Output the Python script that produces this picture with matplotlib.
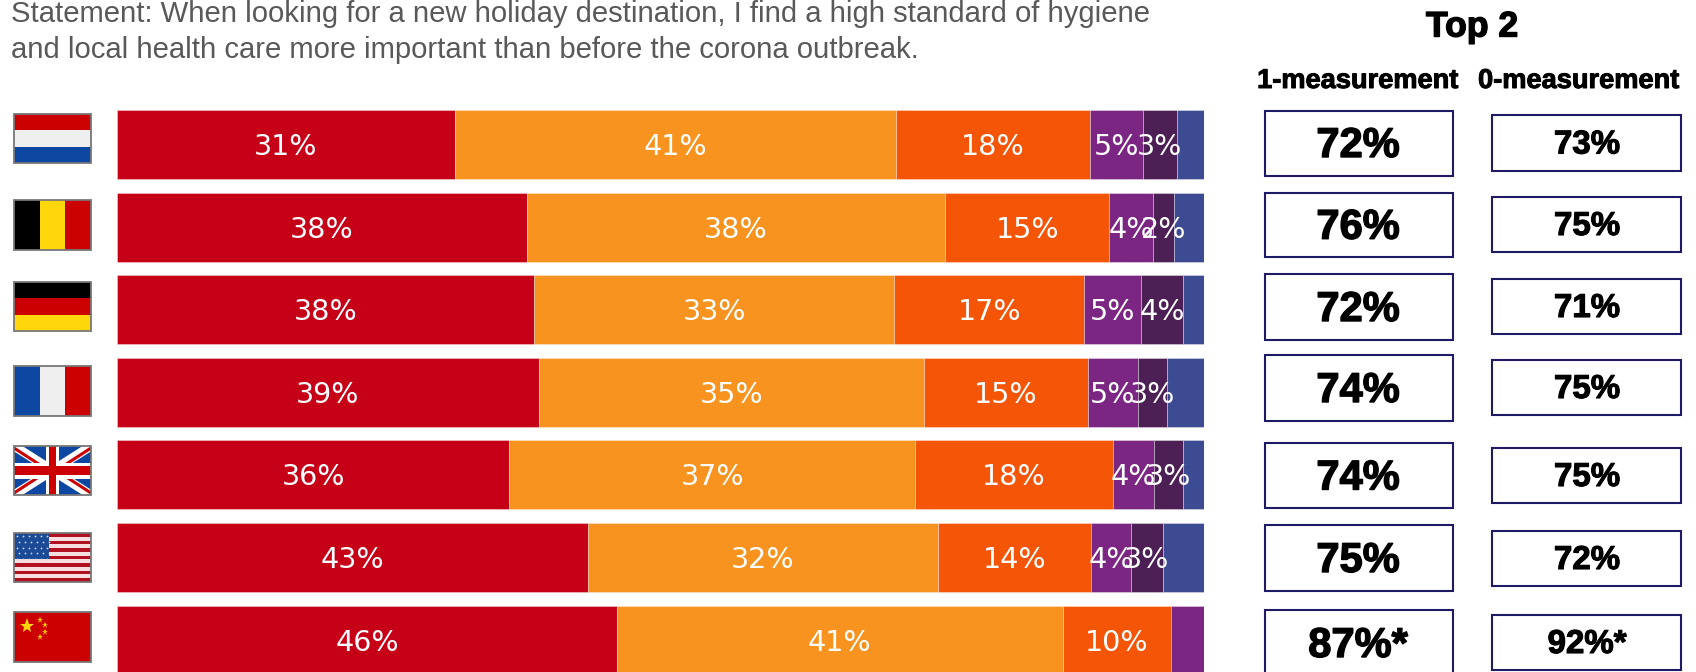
import matplotlib
matplotlib.use("Agg")
import matplotlib.pyplot as plt
import matplotlib.patheffects as pe
from matplotlib.patches import Rectangle

W, H = 1696, 672

countries = ["NL", "BE", "DE", "FR", "UK", "US", "CN"]

# segment shares
seg1 = [31.1, 37.7, 38.4, 38.8, 36.1, 43.3, 46.0]
seg2 = [40.6, 38.5, 33.1, 35.4, 37.3, 32.2, 41.0]
seg3 = [17.8, 15.1, 17.5, 15.1, 18.2, 14.1, 10.0]
seg4 = [4.9, 4.0, 5.2, 4.6, 3.8, 3.7, 3.0]
seg5 = [3.1, 1.9, 3.9, 2.7, 2.7, 2.9, 0]
seg6 = [2.5, 2.8, 1.9, 3.4, 1.9, 3.8, 0]

# printed labels
lab1 = ["31%", "38%", "38%", "39%", "36%", "43%", "46%"]
lab2 = ["41%", "38%", "33%", "35%", "37%", "32%", "41%"]
lab3 = ["18%", "15%", "17%", "15%", "18%", "14%", "10%"]
lab4 = ["5%", "4%", "5%", "5%", "4%", "4%", ""]
lab5 = ["3%", "2%", "4%", "3%", "3%", "3%", ""]
lab6 = ["", "", "", "", "", "", ""]

top2_now = ["72%", "76%", "72%", "74%", "74%", "75%", "87%*"]
top2_before = ["73%", "75%", "71%", "75%", "75%", "72%", "92%*"]

colors = ["#C50017", "#F7931E", "#F45507", "#7B2682", "#4C1F55", "#3D4B93"]
line1 = "Statement: When looking for a new holiday destination, I find a high standard of hygiene"
line2 = "and local health care more important than before the corona outbreak."

fig = plt.figure(figsize=(W / 100, H / 100), dpi=100, facecolor="white")

# bars, y axis scaled so one row is 82.6 px
ax = fig.add_axes([117 / W, 0, 1087 / W, 1])
ax.set_xlim(0, 100)
ax.set_ylim((H - 144.5) / 82.6, -144.5 / 82.6)
ax.axis("off")

left = [0] * len(countries)
all_segs = [seg1, seg2, seg3, seg4, seg5, seg6]
all_labs = [lab1, lab2, lab3, lab4, lab5, lab6]
for vals, labs, col in zip(all_segs, all_labs, colors):
    for i, v in enumerate(vals):
        if v == 0:
            continue
        ax.barh(i, v, left=left[i], height=0.835, color=col,
                edgecolor=(1, 1, 1, 0.35), linewidth=0.7)
        if labs[i]:
            ax.text(left[i] + v / 2, i + 0.03, labs[i], color="white", fontsize=20.6,
                    ha="center", va="center", family="DejaVu Sans")
        left[i] += v

# everything else in pixel coordinates
ov = fig.add_axes([0, 0, 1, 1], facecolor="none")
ov.set_xlim(0, W)
ov.set_ylim(H, 0)
ov.axis("off")

ov.text(11, 14, line1, fontsize=21.05, color="#595959", family="Liberation Sans", va="center")
ov.text(11, 50, line2, fontsize=21.05, color="#595959", family="Liberation Sans", va="center")


def bold(x, y, txt, size, stroke):
    t = ov.text(x, y, txt, fontsize=size, fontweight="bold", ha="center", va="center",
                family="Liberation Sans", color="black")
    t.set_path_effects([pe.withStroke(linewidth=stroke, foreground="black")])


bold(1472, 27, "Top 2", 25.6, 1.0)
bold(1358, 81, "1-measurement", 19.6, 0.7)
bold(1579, 81, "0-measurement", 19.6, 0.7)

box1_y = [(110.5, 175.5), (192.5, 257), (274, 340), (355, 421), (443, 508), (525, 591), (610, 676)]
box2_y = [(115, 171), (197, 252), (279, 334), (360, 415), (448, 503), (531, 586), (615, 670)]
navy = "#1F1A66"
for txt, (y0, y1) in zip(top2_now, box1_y):
    ov.add_patch(Rectangle((1265, y0), 188, y1 - y0, fc="white", ec=navy, lw=1.5))
    bold(1358, (y0 + y1) / 2 + 3, txt, 30, 1.0)
for txt, (y0, y1) in zip(top2_before, box2_y):
    ov.add_patch(Rectangle((1492, y0), 189, y1 - y0, fc="white", ec=navy, lw=1.5))
    bold(1587, (y0 + y1) / 2 + 2, txt, 23.8, 0.8)

# flags
FX0, FX1 = 14, 91
flag_y = [(114, 163), (200, 250), (282, 331), (366, 416), (446, 495), (533, 582), (612, 662)]
RED, BLUE, WHITE = "#CC0000", "#0D47A1", "#EFEFEF"
YEL, BLK = "#FFD70A", "#000000"


def h_bands(y0, y1, cols):
    step = (y1 - y0) / len(cols)
    for k, c in enumerate(cols):
        ov.add_patch(Rectangle((FX0, y0 + k * step), FX1 - FX0, step, fc=c, ec="none"))


def v_bands(y0, y1, cols):
    step = (FX1 - FX0) / len(cols)
    for k, c in enumerate(cols):
        ov.add_patch(Rectangle((FX0 + k * step, y0), step, y1 - y0, fc=c, ec="none"))


def uk(y0, y1):
    clip = Rectangle((FX0, y0), FX1 - FX0, y1 - y0, transform=ov.transData)
    ov.add_patch(Rectangle((FX0, y0), FX1 - FX0, y1 - y0, fc=BLUE, ec="none"))
    xm, ym = (FX0 + FX1) / 2, (y0 + y1) / 2
    for a, b in [((FX0, y0), (FX1, y1)), ((FX0, y1), (FX1, y0))]:
        l1, = ov.plot([a[0], b[0]], [a[1], b[1]], color="white", lw=6.5, solid_capstyle="butt", zorder=1)
        l1.set_clip_path(clip)
    # red diagonals sit off-centre in each quarter
    for sx, sy, off in [(-1, -1, 2.5), (1, 1, -2.5), (1, -1, 2.5), (-1, 1, -2.5)]:
        l2, = ov.plot([xm, xm + sx * 38.5], [ym + off, ym + off + sy * 25], color=RED, lw=2.2,
                      solid_capstyle="butt", zorder=1)
        l2.set_clip_path(clip)
    ov.add_patch(Rectangle((xm - 6.5, y0), 13, y1 - y0, fc="white", ec="none"))
    ov.add_patch(Rectangle((FX0, ym - 8), FX1 - FX0, 16, fc="white", ec="none"))
    ov.add_patch(Rectangle((xm - 3.5, y0), 7, y1 - y0, fc=RED, ec="none"))
    ov.add_patch(Rectangle((FX0, ym - 4.5), FX1 - FX0, 9, fc=RED, ec="none"))


def us(y0, y1):
    step = (y1 - y0) / 13
    for k in range(13):
        c = "#B01020" if k % 2 == 0 else "#F6DDE0"
        ov.add_patch(Rectangle((FX0, y0 + k * step), FX1 - FX0, step, fc=c, ec="none"))
    cw, ch = 35, step * 7
    ov.add_patch(Rectangle((FX0, y0), cw, ch, fc="#1B4A96", ec="none"))
    for r in range(5):
        for c in range(6):
            ov.plot(FX0 + 3 + c * 6 + (r % 2) * 1.5, y0 + 3 + r * 5.8, ".", color="#C8D8F0", ms=2.6, mew=0)


def cn(y0, y1):
    ov.add_patch(Rectangle((FX0, y0), FX1 - FX0, y1 - y0, fc=RED, ec="none"))
    ov.plot(FX0 + 13, y0 + 14, "*", color="#FFD70A", ms=11, mew=0)
    for dx, dy in [(26, 8), (31, 13), (31, 20), (26, 25)]:
        ov.plot(FX0 + dx, y0 + dy, "*", color="#FFC800", ms=4.5, mew=0)


h_bands(*flag_y[0], [RED, WHITE, BLUE])
v_bands(*flag_y[1], [BLK, YEL, RED])
h_bands(*flag_y[2], [BLK, RED, YEL])
v_bands(*flag_y[3], [BLUE, WHITE, RED])
uk(*flag_y[4])
us(*flag_y[5])
cn(*flag_y[6])
for y0, y1 in flag_y:
    ov.add_patch(Rectangle((FX0, y0), FX1 - FX0, y1 - y0, fc="none", ec="#777777", lw=1.3))

fig.savefig("out.png", dpi=100)
